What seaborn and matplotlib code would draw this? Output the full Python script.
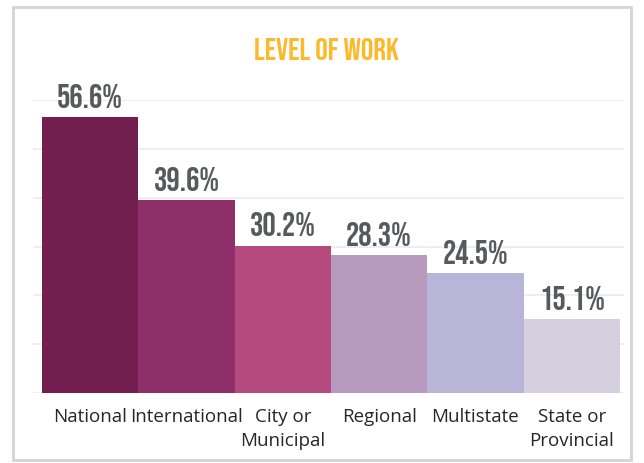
import matplotlib
matplotlib.use("Agg")
import matplotlib.pyplot as plt
import seaborn as sns
import pandas as pd
from matplotlib.patches import Rectangle

categories = ["National", "International", "City or\nMunicipal", "Regional", "Multistate", "State or\nProvincial"]
values = [56.6, 39.6, 30.2, 28.3, 24.5, 15.1]
labels = ["56.6%", "39.6%", "30.2%", "28.3%", "24.5%", "15.1%"]
colors = ["#721F50", "#8E2F69", "#B44A7E", "#B89ABF", "#B9B5D8", "#D6CFE0"]
title = "LEVEL OF WORK"

sns.set_theme(style="white")
plt.rcParams['font.family'] = ['Open Sans', 'DejaVu Sans']

df = pd.DataFrame({"cat": categories, "val": values})

fig = plt.figure(figsize=(6.44, 4.63), dpi=100)
fig.patch.set_facecolor("white")
ax = fig.add_axes([33/644, 1 - 393/463, 591/644, 293/463])

sns.barplot(data=df, x="cat", y="val", hue="cat", palette=colors, width=1.0,
            legend=False, ax=ax, saturation=1, linewidth=0, zorder=3)

ax.set_ylim(0, 60)
ax.set_xlim(-0.593, 5.542)
ax.set_yticks(range(0, 61, 10))
ax.yaxis.grid(True, color="#ebebeb", linewidth=1.2, zorder=0)
ax.set_axisbelow(True)
ax.set_yticklabels([])
ax.tick_params(axis="y", length=0)
ax.tick_params(axis="x", length=0, pad=10.5, labelsize=13.5, labelcolor="#262626")
for lbl in ax.get_xticklabels():
    lbl.set_linespacing(1.45)
for s in ax.spines.values():
    s.set_visible(False)
ax.set_xlabel("")
ax.set_ylabel("")

cond = ['Bebas Neue', 'DejaVu Sans']
for i, (v, lab) in enumerate(zip(values, labels)):
    ax.annotate(lab, xy=(i, v), xytext=(0, 6.5), textcoords="offset points",
                ha="center", va="baseline", fontsize=24,
                color="#58595B", family=cond, clip_on=False)

fig.text(326/644, 1 - 60/463, title, ha="center", va="baseline", fontsize=22.5,
         color="#FBB92B", family=cond)

fig.patches.append(Rectangle((13/644, 1 - 460/463), 618/644, 453/463,
                             transform=fig.transFigure, fill=False,
                             edgecolor="#d4d4d4", linewidth=2))

fig.savefig("out.png", dpi=100)
